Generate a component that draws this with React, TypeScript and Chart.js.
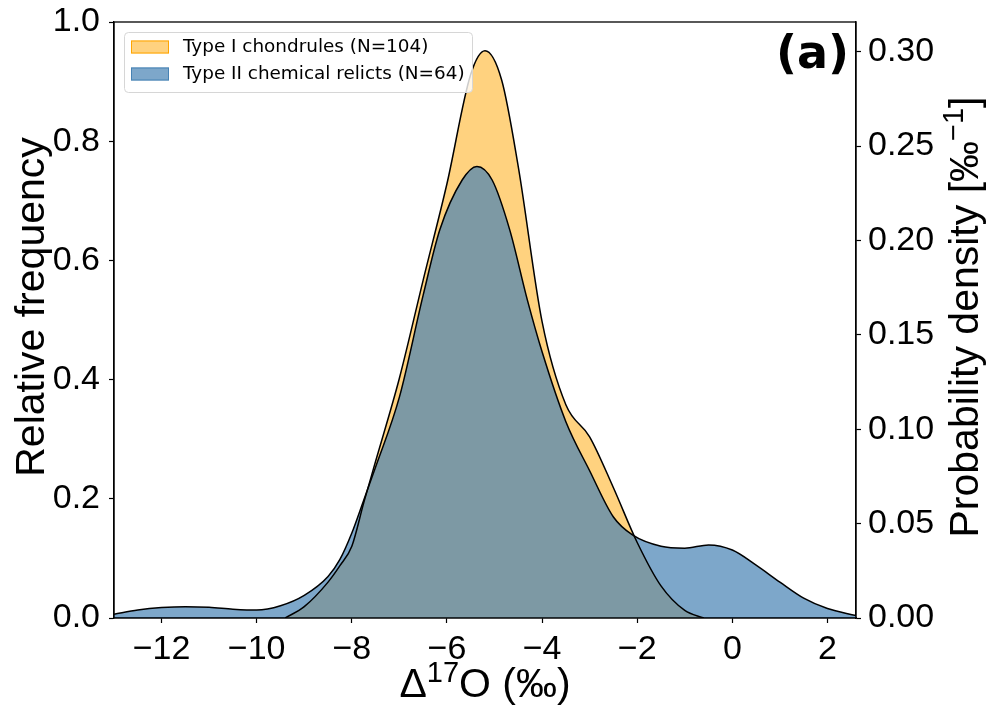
import React, { useEffect, useRef } from 'react';
import { Chart, registerables } from 'chart.js';

Chart.register(...registerables);

// ---- data ----
const xTicks = [-12, -10, -8, -6, -4, -2, 0, 2];
const leftTicks = [0, 0.2, 0.4, 0.6, 0.8, 1.0];
const rightTicks = [0, 0.05, 0.1, 0.15, 0.2, 0.25, 0.3];

const seriesLabels = ['Type I chondrules (N=104)', 'Type II chemical relicts (N=64)'];

// Type I chondrules – KDE (probability density, ‰^-1)
const typeIX = [-9.4, -9.0, -8.5, -8.25, -8.0, -7.75, -7.5, -7.0, -6.5, -6.0, -5.5, -5.2, -4.85, -4.5, -4.0, -3.5, -3.0, -2.5, -2.0, -1.5, -1.0, -0.6];
const typeIDensity = [0, 0.006, 0.019, 0.0277, 0.038, 0.061, 0.083, 0.127, 0.179, 0.230, 0.288, 0.3005, 0.285, 0.239, 0.157, 0.113, 0.096, 0.069, 0.040, 0.017, 0.004, 0];

// Type II chemical relicts – KDE (probability density, ‰^-1)
const typeIIX = [-13, -12.5, -12, -11.5, -11, -10.5, -10, -9.5, -9.0, -8.5, -8.25, -8.0, -7.75, -7.5, -7.0, -6.5, -6.15, -5.68, -5.37, -5.05, -4.68, -4.31, -4.0, -3.5, -3.0, -2.5, -2.1, -1.5, -1.0, -0.5, 0, 0.5, 1.0, 1.5, 2.0, 2.6];
const typeIIDensity = [0.002, 0.0042, 0.0055, 0.006, 0.0057, 0.0047, 0.0042, 0.0065, 0.012, 0.022, 0.031, 0.045, 0.0624, 0.080, 0.117, 0.171, 0.2056, 0.232, 0.2392, 0.232, 0.2056, 0.1685, 0.141, 0.104, 0.078, 0.0535, 0.044, 0.038, 0.037, 0.0387, 0.036, 0.028, 0.019, 0.0105, 0.005, 0.0013];

const X_MIN = -13;
const X_MAX = 2.6;
const LEFT_MAX = 1.0;
const RIGHT_MAX = 0.3157;

const ORANGE_FILL = 'rgba(255,165,0,0.5)';
const ORANGE_EDGE = 'rgb(255,165,0)';
const BLUE_FILL = 'rgba(70,130,180,0.7)';
const BLUE_EDGE = 'rgb(70,130,180)';

const SANS = '"Liberation Sans", Arial, Helvetica, sans-serif';
const DEJAVU = '"DejaVu Sans", sans-serif';

const fmtX = (v: number) => (v < 0 ? '\u2212' + Math.abs(v) : String(v));

function drawSupText(
  ctx: CanvasRenderingContext2D,
  parts: { t: string; sup?: boolean }[],
  size: number
) {
  const supSize = Math.round(size * 0.7);
  const widths = parts.map((p) => {
    ctx.font = `${p.sup ? supSize : size}px ${SANS}`;
    return ctx.measureText(p.t).width;
  });
  const total = widths.reduce((a, b) => a + b, 0);
  let x = -total / 2;
  parts.forEach((p, i) => {
    ctx.font = `${p.sup ? supSize : size}px ${SANS}`;
    ctx.fillText(p.t, x, p.sup ? -size * 0.36 : 0);
    x += widths[i];
  });
}

const decorPlugin = {
  id: 'decor',
  afterDraw(chart: any) {
    const ctx: CanvasRenderingContext2D = chart.ctx;
    const a = chart.chartArea;
    ctx.save();
    // frame
    ctx.strokeStyle = '#000';
    ctx.lineWidth = 1.3;
    ctx.strokeRect(a.left, a.top, a.right - a.left, a.bottom - a.top);

    ctx.fillStyle = '#000';
    ctx.textAlign = 'left';
    ctx.textBaseline = 'alphabetic';

    // left title
    ctx.save();
    ctx.translate(44, 307);
    ctx.rotate(-Math.PI / 2);
    ctx.font = `41px ${SANS}`;
    ctx.textAlign = 'center';
    ctx.fillText('Relative frequency', 0, 0);
    ctx.restore();

    // right title
    ctx.save();
    ctx.translate(978, 317);
    ctx.rotate(-Math.PI / 2);
    drawSupText(ctx, [{ t: 'Probability density [\u2030' }, { t: '\u22121', sup: true }, { t: ']' }], 41);
    ctx.restore();

    // x title
    ctx.save();
    ctx.translate((a.left + a.right) / 2, 697);
    drawSupText(ctx, [{ t: '\u0394' }, { t: '17', sup: true }, { t: 'O (\u2030)' }], 41);
    ctx.restore();

    // panel label
    ctx.font = `bold 46px ${DEJAVU}`;
    ctx.textAlign = 'right';
    ctx.fillText('(a)', a.right - 7, 68);

    // legend
    const lx = a.left + 10;
    const ly = a.top + 10;
    const lw = 348;
    const lh = 60;
    ctx.beginPath();
    (ctx as any).roundRect(lx + 0.5, ly + 0.5, lw, lh, 4);
    ctx.fillStyle = 'rgba(255,255,255,0.8)';
    ctx.fill();
    ctx.strokeStyle = 'rgb(214,214,214)';
    ctx.lineWidth = 1;
    ctx.stroke();
    const fills = [ORANGE_FILL, BLUE_FILL];
    const edges = [ORANGE_EDGE, BLUE_EDGE];
    ctx.font = `18.4px ${DEJAVU}`;
    ctx.textAlign = 'left';
    ctx.textBaseline = 'middle';
    seriesLabels.forEach((lab, i) => {
      const cy = ly + 15 + i * 27;
      ctx.fillStyle = '#fff';
      ctx.fillRect(lx + 7, cy - 6.5, 38, 13);
      ctx.fillStyle = fills[i];
      ctx.fillRect(lx + 7, cy - 6.5, 38, 13);
      ctx.strokeStyle = edges[i];
      ctx.lineWidth = 1;
      ctx.strokeRect(lx + 7.5, cy - 6, 37, 12);
      ctx.fillStyle = '#000';
      ctx.fillText(lab, lx + 59, cy);
    });
    ctx.restore();
  },
};

export default function App() {
  const ref = useRef<HTMLCanvasElement | null>(null);

  useEffect(() => {
    document.body.style.margin = '0';
    const canvas = ref.current;
    if (!canvas) return;

    const tickFont = { family: SANS, size: 34 };
    const gridCommon = {
      drawOnChartArea: false,
      drawTicks: true,
      tickLength: 5,
      tickWidth: 1.2,
      color: '#000',
    };
    const borderCommon = { display: true, color: '#000', width: 1.3 };
    const noVPad = (s: any, w: number) => {
      s.width = w;
      s.paddingTop = 0;
      s.paddingBottom = 0;
    };

    const chart = new Chart(canvas, {
      type: 'line',
      data: {
        datasets: [
          {
            label: seriesLabels[0],
            data: typeIX.map((x, i) => ({ x, y: typeIDensity[i] })),
            yAxisID: 'y2',
            borderColor: '#000',
            borderWidth: 1.5,
            backgroundColor: ORANGE_FILL,
            fill: 'origin',
            pointRadius: 0,
            cubicInterpolationMode: 'monotone',
            order: 2,
          },
          {
            label: seriesLabels[1],
            data: typeIIX.map((x, i) => ({ x, y: typeIIDensity[i] })),
            yAxisID: 'y2',
            borderColor: '#000',
            borderWidth: 1.5,
            backgroundColor: BLUE_FILL,
            fill: 'origin',
            pointRadius: 0,
            cubicInterpolationMode: 'monotone',
            order: 1,
          },
        ],
      },
      options: {
        animation: false,
        responsive: false,
        maintainAspectRatio: false,
        layout: { padding: { top: 22, left: 0, right: 0, bottom: 0 } },
        plugins: {
          legend: { display: false },
          tooltip: { enabled: false },
          filler: { drawTime: 'beforeDatasetsDraw' },
        },
        scales: {
          x: {
            type: 'linear',
            min: X_MIN,
            max: X_MAX,
            afterBuildTicks: (s: any) => {
              s.ticks = xTicks.map((v) => ({ value: v }));
            },
            afterFit: (s: any) => {
              s.height = 93;
              s.paddingLeft = 0;
              s.paddingRight = 0;
            },
            ticks: {
              font: tickFont,
              color: '#000',
              padding: 6,
              maxRotation: 0,
              autoSkip: false,
              callback: (v: any) => fmtX(Number(v)),
            },
            grid: gridCommon,
            border: borderCommon,
          },
          y: {
            type: 'linear',
            position: 'left',
            min: 0,
            max: LEFT_MAX,
            afterBuildTicks: (s: any) => {
              s.ticks = leftTicks.map((v) => ({ value: v }));
            },
            afterFit: (s: any) => noVPad(s, 114),
            ticks: {
              font: tickFont,
              color: '#000',
              padding: 9,
              callback: (v: any) => Number(v).toFixed(1),
            },
            grid: gridCommon,
            border: borderCommon,
          },
          y2: {
            type: 'linear',
            position: 'right',
            min: 0,
            max: RIGHT_MAX,
            afterBuildTicks: (s: any) => {
              s.ticks = rightTicks.map((v) => ({ value: v }));
            },
            afterFit: (s: any) => noVPad(s, 135),
            ticks: {
              font: tickFont,
              color: '#000',
              padding: 7,
              callback: (v: any) => Number(v).toFixed(2),
            },
            grid: gridCommon,
            border: borderCommon,
          },
        },
      } as any,
      plugins: [decorPlugin],
    });

    return () => chart.destroy();
  }, []);

  return (
    <div style={{ position: 'absolute', left: 0, top: 0, width: 991, height: 711, background: '#fff' }}>
      <canvas ref={ref} width={991} height={711} style={{ width: 991, height: 711, display: 'block' }} />
    </div>
  );
}
